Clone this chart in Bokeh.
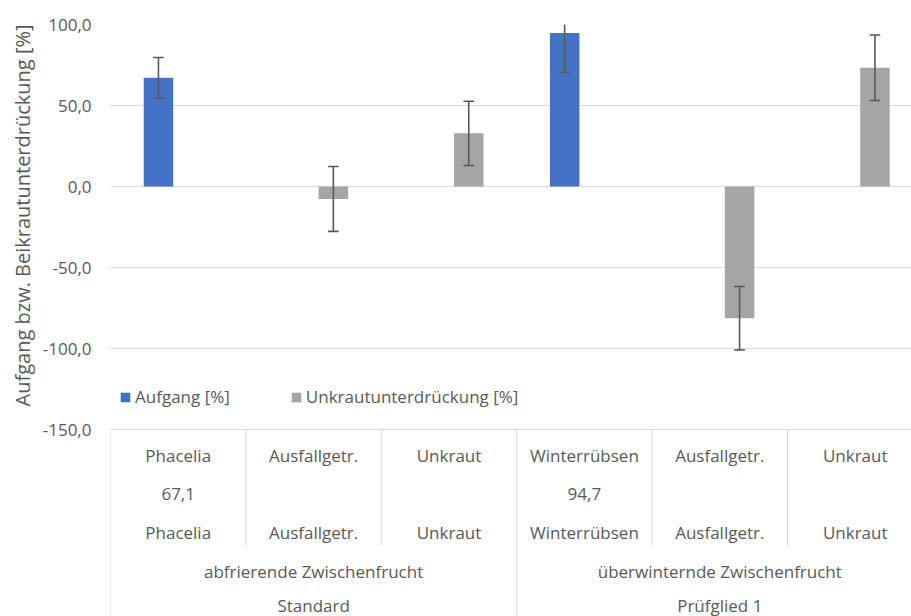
import numpy as np
from bokeh.plotting import figure
from bokeh.models import (ColumnDataSource, Range1d, FixedTicker, CustomJSTickFormatter,
                          Legend, LegendItem, Title)
from bokeh.core.properties import value
from bokeh.embed import file_html
from bokeh.resources import INLINE

# ---------------- data ----------------
categories = ["Phacelia", "Ausfallgetr.", "Unkraut", "Winterrübsen", "Ausfallgetr.", "Unkraut"]
aufgang = [67.1, None, None, 94.7, None, None]
aufgang_err = [12.5, None, None, 24.3, None, None]
unkraut = [None, -7.7, 32.8, None, -81.3, 73.3]
unkraut_err = [None, 20.0, 19.8, None, 19.6, 20.2]
groups = ["abfrierende Zwischenfrucht", "überwinternde Zwischenfrucht"]
treatments = ["Standard", "Prüfglied 1"]
group_size = 3
y_ticks = [-150, -100, -50, 0, 50, 100]
series_names = ["Aufgang [%]", "Unkrautunterdrückung [%]"]
y_title = "Aufgang bzw. Beikrautunterdrückung [%]"

# ---------------- layout ----------------
W, H = 911, 616
LEFT, TOP = 110, 24
PX_CAT = 135.4
PX_UNIT = 1.62
x_end = (W - LEFT) / PX_CAT
y_top = y_ticks[-1]
y_bot = y_top - (H - TOP) / PX_UNIT
y_min_tick = y_ticks[0]

BLUE = "#4472C4"
GRAY = "#A5A5A5"
TXT = "#595959"
GRID = "#D9D9D9"
FONT = "Open Sans"
FS = "17px"
bar_w = 29.5 / PX_CAT
off = 19.75 / PX_CAT
cap = 5.3 / PX_CAT

p = figure(width=W, height=H, output_backend="svg", toolbar_location=None,
           x_range=Range1d(0, x_end), y_range=Range1d(y_bot, y_top),
           min_border_left=LEFT, min_border_top=TOP, min_border_right=0, min_border_bottom=0)
p.outline_line_color = None
p.xaxis.visible = False
p.xgrid.visible = False
p.ygrid.ticker = FixedTicker(ticks=y_ticks)
p.ygrid.grid_line_color = GRID
p.ygrid.grid_line_width = 1
p.yaxis.ticker = FixedTicker(ticks=y_ticks)
p.yaxis.formatter = CustomJSTickFormatter(code="return tick.toFixed(1).replace('.', ',');")
p.yaxis.axis_line_color = None
p.yaxis.major_tick_line_color = None
p.yaxis.minor_tick_line_color = None
p.yaxis.major_tick_out = 0
p.yaxis.major_tick_in = 0
p.yaxis.major_label_standoff = 19
p.yaxis.major_label_text_font = FONT
p.yaxis.major_label_text_font_size = FS
p.yaxis.major_label_text_color = TXT

# ---------------- bars ----------------
def series(vals, errs, shift):
    xs, ys, es = [], [], []
    for i, (v, e) in enumerate(zip(vals, errs)):
        if v is not None:
            xs.append(i + 0.5 + shift)
            ys.append(v)
            es.append(e)
    xs, ys, es = np.array(xs), np.array(ys), np.array(es)
    return ColumnDataSource(dict(x=xs, top=ys, lo=ys - es, hi=ys + es,
                                 cl=xs - cap, cr=xs + cap))

src_a = series(aufgang, aufgang_err, -off)
src_u = series(unkraut, unkraut_err, off)

r_a = p.vbar(x="x", top="top", bottom=0, width=bar_w, source=src_a,
             fill_color=BLUE, line_color=None)
r_u = p.vbar(x="x", top="top", bottom=0, width=bar_w, source=src_u,
             fill_color=GRAY, line_color=None)

for src in (src_a, src_u):
    p.segment(x0="x", y0="lo", x1="x", y1="hi", source=src, line_color=TXT, line_width=1.6)
    p.segment(x0="cl", y0="hi", x1="cr", y1="hi", source=src, line_color=TXT, line_width=1.6)
    p.segment(x0="cl", y0="lo", x1="cr", y1="lo", source=src, line_color=TXT, line_width=1.6)

# ---------------- category table below the axis ----------------
n = len(categories)
row_off_px = [26, 64, 103, 142, 176]
row_y = [y_min_tick - o / PX_UNIT for o in row_off_px]
inner_bottom = y_min_tick - 116 / PX_UNIT

vx0, vy0, vx1, vy1 = [], [], [], []
for b in range(n + 1):
    vx0.append(b); vx1.append(b)
    vy0.append(y_min_tick)
    vy1.append(y_bot if b % group_size == 0 else inner_bottom)
p.segment(x0=vx0, y0=vy0, x1=vx1, y1=vy1, line_color=GRID, line_width=1)

def fmt(v):
    return "" if v is None else f"{v:.1f}".replace(".", ",")

tx, ty, tt = [], [], []
for i, c in enumerate(categories):
    tx += [i + 0.5] * 3
    ty += [row_y[0], row_y[1], row_y[2]]
    tt += [c, fmt(aufgang[i]), c]
for g, (grp, trt) in enumerate(zip(groups, treatments)):
    cx = g * group_size + group_size / 2
    tx += [cx, cx]
    ty += [row_y[3], row_y[4]]
    tt += [grp, trt]
p.text(x=tx, y=ty, text=tt, text_font=value(FONT), text_font_size=value(FS),
       text_color=TXT, text_align="center", text_baseline="middle")

# ---------------- y title ----------------
p.add_layout(Title(text=y_title, align="right", standoff=8,
                   text_font=FONT, text_font_size="20px", text_color=TXT,
                   text_font_style="normal"), "left")

# ---------------- legend ----------------
legend = Legend(items=[LegendItem(label=series_names[0], renderers=[r_a]),
                       LegendItem(label=series_names[1], renderers=[r_u])],
                orientation="horizontal", location=(9, 208),
                glyph_width=12, glyph_height=12, label_standoff=4, spacing=60,
                padding=0, margin=0, border_line_color=None, background_fill_alpha=0,
                label_text_font=FONT, label_text_font_size=FS, label_text_color=TXT)
p.add_layout(legend, "center")

open("out.html", "w").write(file_html(p, INLINE))
